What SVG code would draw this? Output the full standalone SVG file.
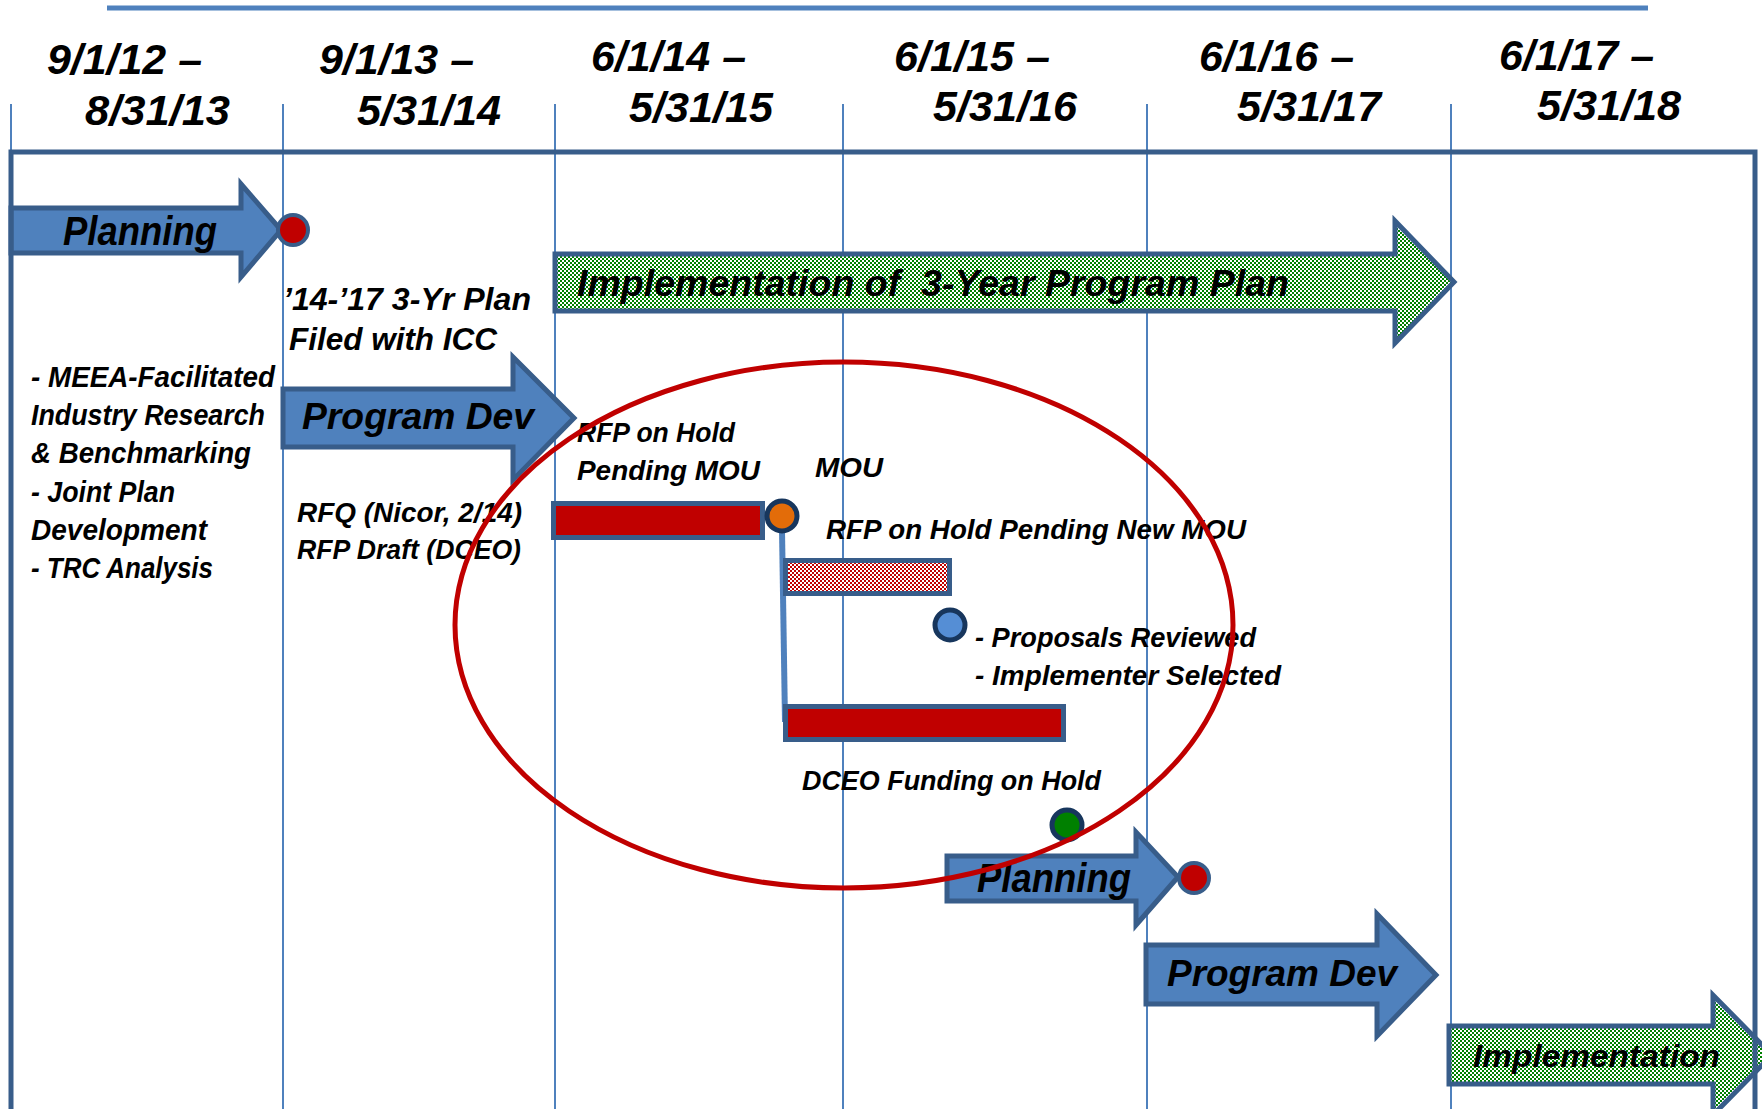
<svg xmlns="http://www.w3.org/2000/svg" width="1762" height="1109" viewBox="0 0 1762 1109">
<defs>
<style>
.t{font-family:"Liberation Sans",Arial,sans-serif;font-weight:bold;font-style:italic;fill:#000}
.grid{stroke:#4F81BD;stroke-width:2;fill:none}
.frame{stroke:#385D8A;stroke-width:5;fill:none}
.arrow{fill:#4F81BD;stroke:#385D8A;stroke-width:5;stroke-linejoin:miter}
.garrow{fill:url(#chkG);stroke:#385D8A;stroke-width:5}
.bar{fill:#C00000;stroke:#385D8A;stroke-width:5}
.hbar{fill:url(#chkR);stroke:#385D8A;stroke-width:5}
.dotA{stroke:#385D8A;stroke-width:4}
.dotB{stroke:#17365D;stroke-width:5}
.h{font-size:42px}
.s{font-size:28px}
</style>
<pattern id="chkG" width="4" height="4" patternUnits="userSpaceOnUse"><rect width="4" height="4" fill="#ffffff"/><rect width="2" height="2" fill="#008000"/><rect x="2" y="2" width="2" height="2" fill="#008000"/></pattern>
<pattern id="chkR" width="4" height="4" patternUnits="userSpaceOnUse"><rect width="4" height="4" fill="#ffffff"/><rect width="2" height="2" fill="#C00000"/><rect x="2" y="2" width="2" height="2" fill="#C00000"/></pattern>
</defs>
<rect width="1762" height="1109" fill="#ffffff"/>

<g id="top-rule"><line x1="107" y1="8" x2="1648" y2="8" stroke="#4F81BD" stroke-width="5"/></g>

<g id="gridlines">
<line class="grid" x1="11" y1="104" x2="11" y2="1109"/>
<line class="grid" x1="283" y1="104" x2="283" y2="1109"/>
<line class="grid" x1="555" y1="104" x2="555" y2="1109"/>
<line class="grid" x1="843" y1="104" x2="843" y2="1109"/>
<line class="grid" x1="1147" y1="104" x2="1147" y2="1109"/>
<line class="grid" x1="1451" y1="104" x2="1451" y2="1109"/>
</g>

<g id="headers">
<text class="t h" x="47" y="74" textLength="155" lengthAdjust="spacingAndGlyphs">9/1/12 –</text>
<text class="t h" x="85" y="125" textLength="145" lengthAdjust="spacingAndGlyphs">8/31/13</text>
<text class="t h" x="319" y="74" textLength="155" lengthAdjust="spacingAndGlyphs">9/1/13 –</text>
<text class="t h" x="357" y="125" textLength="144" lengthAdjust="spacingAndGlyphs">5/31/14</text>
<text class="t h" x="591" y="71" textLength="155" lengthAdjust="spacingAndGlyphs">6/1/14 –</text>
<text class="t h" x="629" y="122" textLength="144" lengthAdjust="spacingAndGlyphs">5/31/15</text>
<text class="t h" x="894" y="71" textLength="156" lengthAdjust="spacingAndGlyphs">6/1/15 –</text>
<text class="t h" x="933" y="121" textLength="144" lengthAdjust="spacingAndGlyphs">5/31/16</text>
<text class="t h" x="1199" y="71" textLength="155" lengthAdjust="spacingAndGlyphs">6/1/16 –</text>
<text class="t h" x="1237" y="121" textLength="144" lengthAdjust="spacingAndGlyphs">5/31/17</text>
<text class="t h" x="1499" y="70" textLength="155" lengthAdjust="spacingAndGlyphs">6/1/17 –</text>
<text class="t h" x="1537" y="120" textLength="144" lengthAdjust="spacingAndGlyphs">5/31/18</text>
</g>

<g id="planning-1">
<path class="arrow" d="M11,208 H241 V184 L281,230 L241,277 V253 H11 Z"/>
<text class="t" x="63" y="245" font-size="40" textLength="154" lengthAdjust="spacingAndGlyphs">Planning</text>
</g>
<g id="milestone-1"><circle class="dotA" cx="293" cy="230" r="15" fill="#C00000"/></g>

<g id="implementation-3yr">
<path class="garrow" d="M555,254 H1395 V221 L1454,282 L1395,343 V311 H555 Z"/>
<text class="t" x="577" y="296" font-size="37" textLength="712" lengthAdjust="spacingAndGlyphs" xml:space="preserve">Implementation of  3-Year Program Plan</text>
</g>

<g id="plan-filed">
<text class="t" x="283" y="310" font-size="32" textLength="248" lengthAdjust="spacingAndGlyphs">’14-’17 3-Yr Plan</text>
<text class="t" x="289" y="350" font-size="32" textLength="208" lengthAdjust="spacingAndGlyphs">Filed with ICC</text>
</g>

<g id="planning-notes">
<text class="t" x="31" y="387" font-size="30" textLength="244" lengthAdjust="spacingAndGlyphs">- MEEA-Facilitated</text>
<text class="t" x="31" y="425" font-size="30" textLength="234" lengthAdjust="spacingAndGlyphs">Industry Research</text>
<text class="t" x="31" y="463" font-size="30" textLength="220" lengthAdjust="spacingAndGlyphs">&amp; Benchmarking</text>
<text class="t" x="31" y="502" font-size="30" textLength="144" lengthAdjust="spacingAndGlyphs">- Joint Plan</text>
<text class="t" x="31" y="540" font-size="30" textLength="176" lengthAdjust="spacingAndGlyphs">Development</text>
<text class="t" x="31" y="578" font-size="30" textLength="182" lengthAdjust="spacingAndGlyphs">- TRC Analysis</text>
</g>

<g id="program-dev-1">
<path class="arrow" d="M283,389 H513 V357 L574,418 L513,480 V447 H283 Z"/>
<text class="t" x="302" y="429" font-size="37" textLength="232" lengthAdjust="spacingAndGlyphs">Program Dev</text>
</g>

<g id="rfq-notes">
<text class="t s" x="297" y="522" textLength="225" lengthAdjust="spacingAndGlyphs">RFQ (Nicor, 2/14)</text>
<text class="t s" x="297" y="559" textLength="224" lengthAdjust="spacingAndGlyphs">RFP Draft (DCEO)</text>
</g>

<g id="rfp-hold-label">
<text class="t s" x="577" y="442" textLength="158" lengthAdjust="spacingAndGlyphs">RFP on Hold</text>
<text class="t s" x="577" y="480" textLength="183" lengthAdjust="spacingAndGlyphs">Pending MOU</text>
</g>
<g id="rfp-hold-bar"><rect class="bar" x="553.5" y="503.5" width="209" height="34"/></g>

<g id="mou-label"><text class="t s" x="815" y="477" textLength="68" lengthAdjust="spacingAndGlyphs">MOU</text></g>

<g id="connectors">
<line x1="782" y1="530" x2="785" y2="722" stroke="#4F81BD" stroke-width="6"/>
</g>

<g id="mou-milestone"><circle class="dotB" cx="782" cy="516" r="15" fill="#E36C09"/></g>

<g id="rfp-new-mou">
<text class="t s" x="826" y="539" textLength="420" lengthAdjust="spacingAndGlyphs">RFP on Hold Pending New MOU</text>
<rect class="hbar" x="785.5" y="560.5" width="164" height="33"/>
</g>

<g id="proposals">
<circle class="dotB" cx="950" cy="625" r="15" fill="#558ED5"/>
<text class="t s" x="975" y="647" textLength="281" lengthAdjust="spacingAndGlyphs">- Proposals Reviewed</text>
<text class="t s" x="975" y="685" textLength="306" lengthAdjust="spacingAndGlyphs">- Implementer Selected</text>
</g>

<g id="dceo-hold">
<rect class="bar" x="785.5" y="706.5" width="278" height="33"/>
<text class="t s" x="802" y="790" textLength="299" lengthAdjust="spacingAndGlyphs">DCEO Funding on Hold</text>
</g>

<g id="dceo-milestone"><circle class="dotB" cx="1067" cy="825" r="15" fill="#008000"/></g>

<g id="planning-2">
<path class="arrow" d="M947,856 H1136 V832 L1178,877 L1136,925 V901 H947 Z"/>
<text class="t" x="977" y="892" font-size="40" textLength="154" lengthAdjust="spacingAndGlyphs">Planning</text>
</g>
<g id="milestone-2"><circle class="dotA" cx="1194" cy="878" r="15" fill="#C00000"/></g>

<g id="program-dev-2">
<path class="arrow" d="M1146,945 H1377 V914 L1436,975 L1377,1036 V1004 H1146 Z"/>
<text class="t" x="1167" y="986" font-size="37" textLength="230" lengthAdjust="spacingAndGlyphs">Program Dev</text>
</g>

<g id="implementation-2">
<path class="garrow" d="M1449,1026 H1713 V995 L1772,1055 L1713,1115 V1084 H1449 Z"/>
<text class="t" x="1473" y="1067" font-size="32" textLength="247" lengthAdjust="spacingAndGlyphs">Implementation</text>
</g>

<g id="frame">
<polyline class="frame" points="11,1109 11,152 1755,152 1755,1109"/>
</g>

<g id="focus-ellipse">
<ellipse cx="844" cy="625" rx="389" ry="263" fill="none" stroke="#C00000" stroke-width="5"/>
</g>
</svg>
